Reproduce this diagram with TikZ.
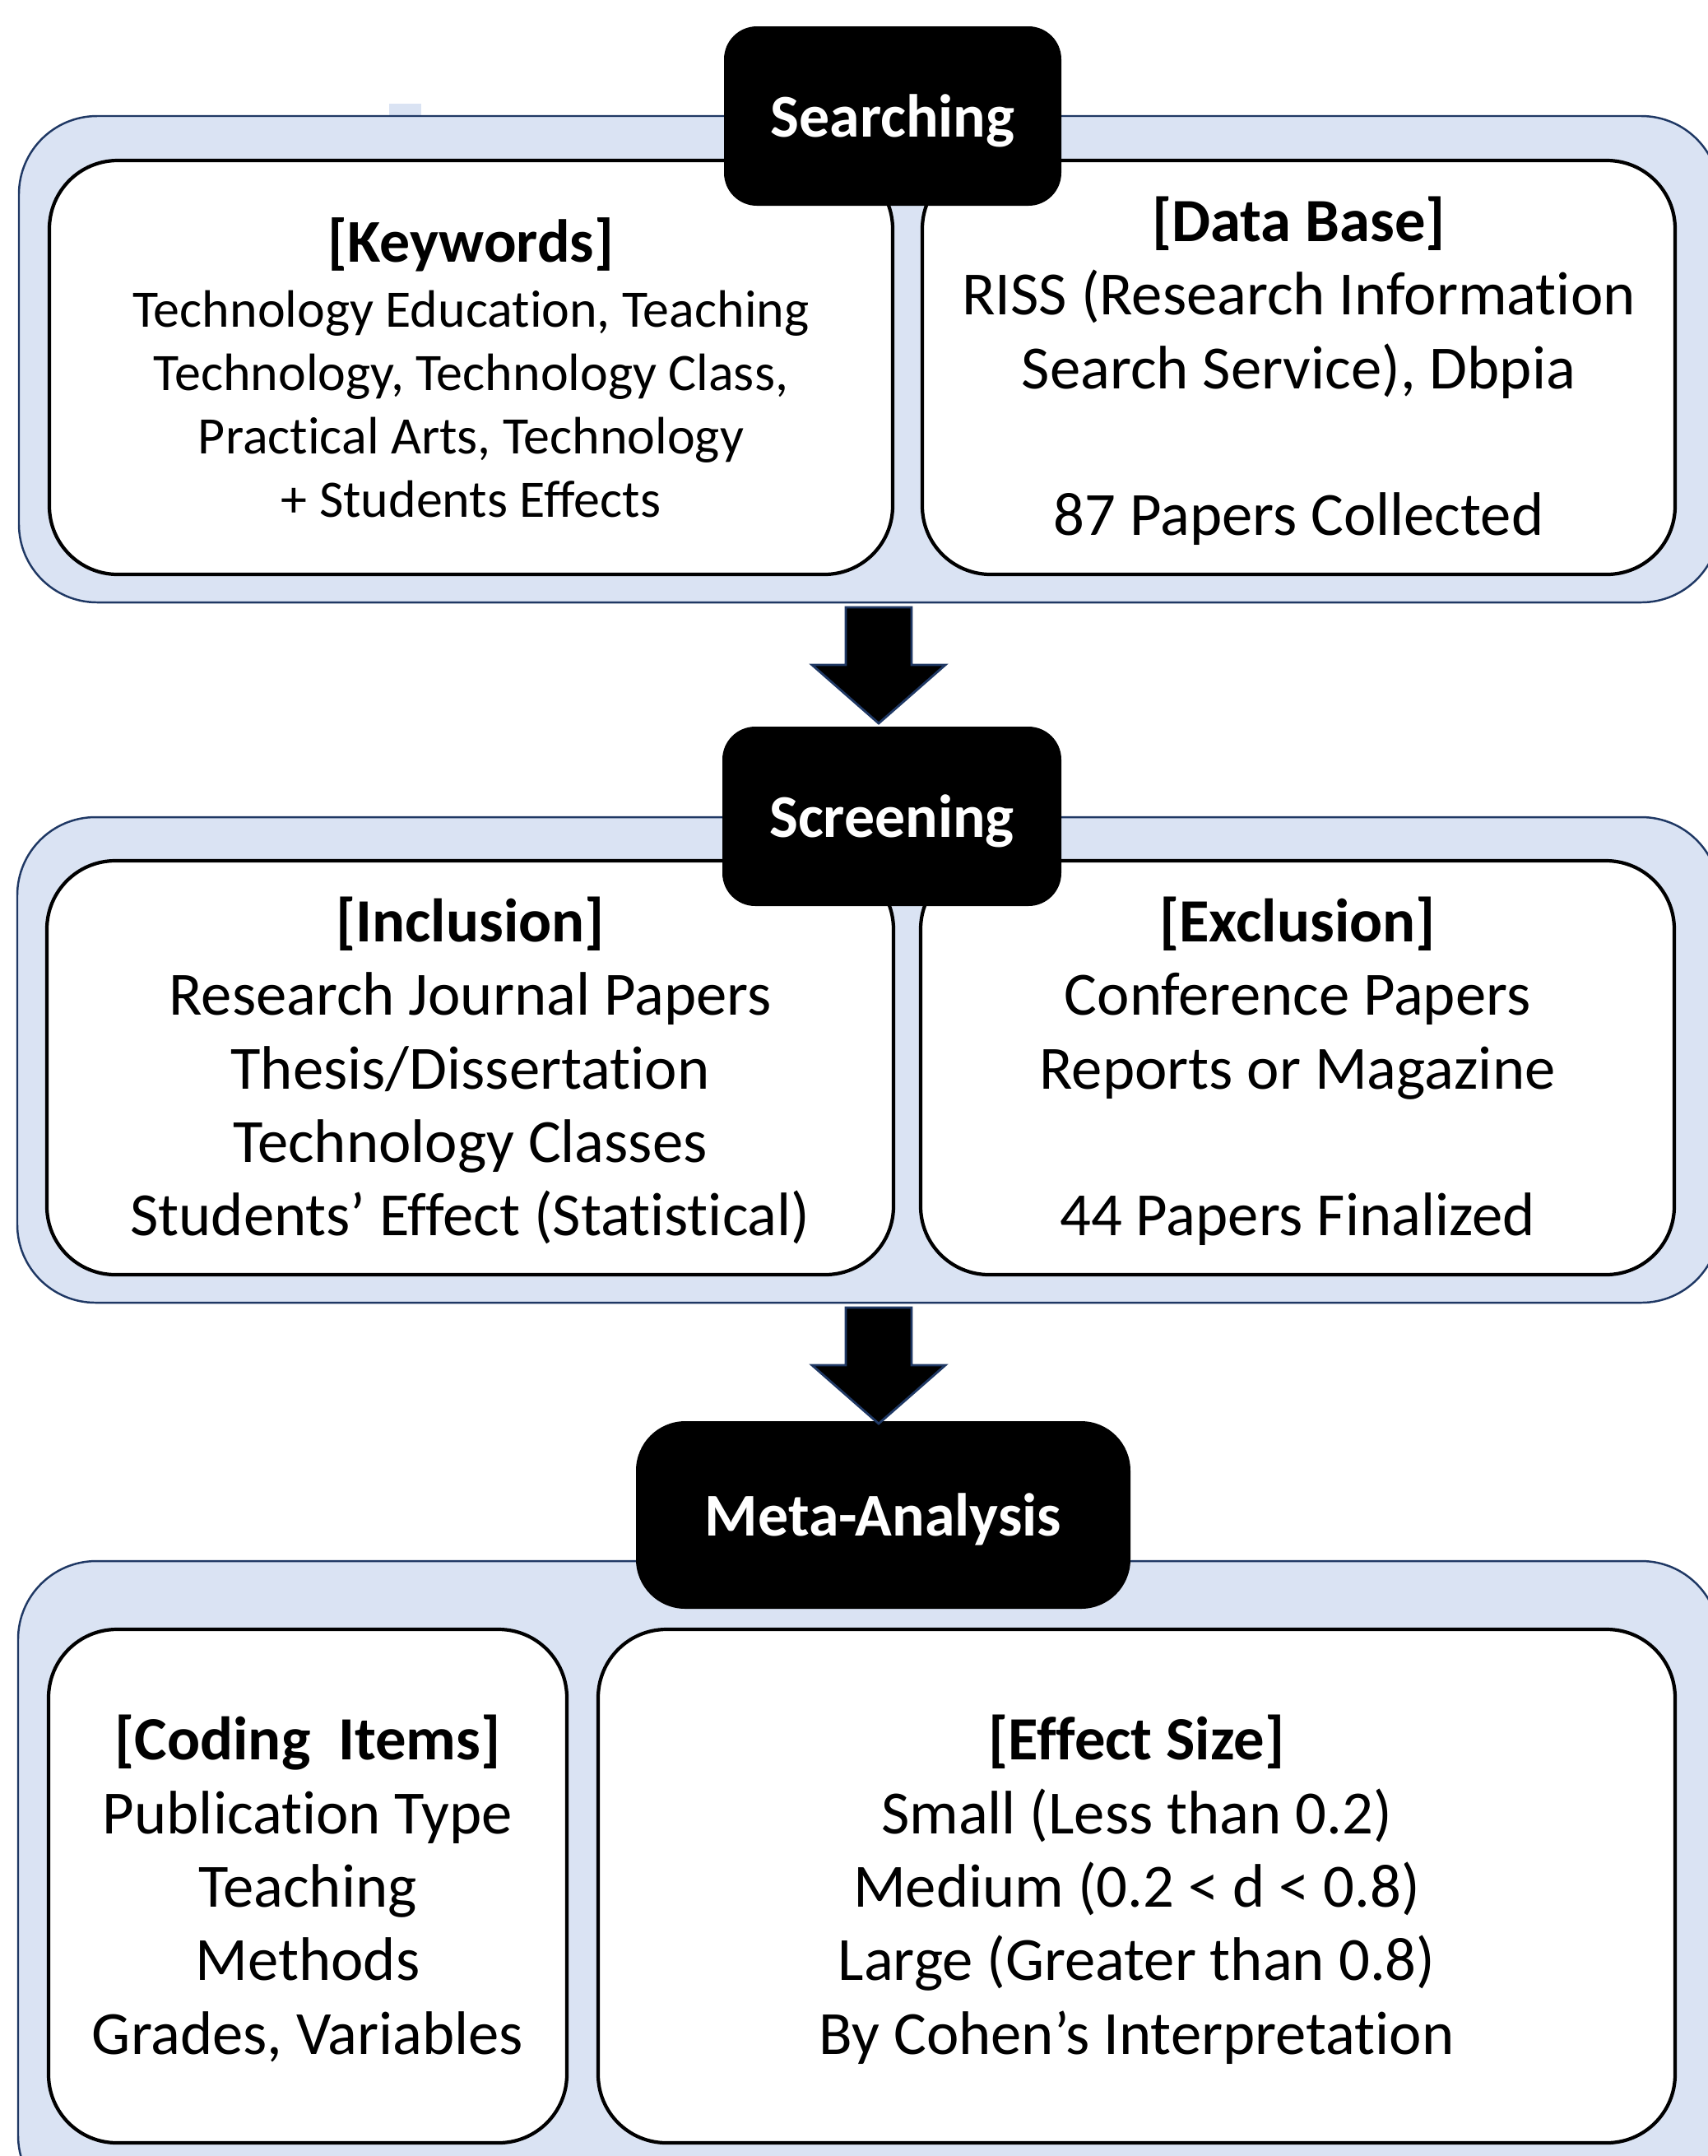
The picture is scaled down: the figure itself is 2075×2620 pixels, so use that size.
\documentclass[tikz,border=0pt]{standalone}
\usepackage{fontspec}
\setmainfont{Carlito}[Ligatures=NoCommon]
\usetikzlibrary{positioning,calc}
\pgfdeclarelayer{background}
\pgfsetlayers{background,main}
\definecolor{panelblue}{HTML}{DAE3F3}
\definecolor{navy}{HTML}{1F3864}

\begin{document}
\begin{tikzpicture}[x=0.1mm,y=-0.1mm,
		panel/.style={draw=navy, fill=panelblue, line width=0.7pt, rounded corners=9.5mm},
		itembox/.style={draw=black, fill=white, line width=1.2pt, rounded corners=8.3mm,
			align=center, inner sep=0pt, text depth=1pt, font=\fontsize{21.25}{25.4}\selectfont},
		stagebox/.style={fill=black, text=white, rounded corners=4mm, inner sep=0pt, text depth=0pt,
			font=\fontsize{21}{25.4}\selectfont\bfseries},
		blockarrow/.style={draw=navy, fill=black, line width=0.8pt}]
	\useasboundingbox (0,0) rectangle (2075,2620);

	% searching
	\node[itembox, minimum width=102.5mm, minimum height=50.3mm, text depth=0pt,
		font=\fontsize{18.2}{21.9}\selectfont] (keywords) at (572.5,446.5)
		{\textbf{\fontsize{21}{25.4}\selectfont [Keywords]}\\[0.6pt]
		 Technology Education, Teaching\\ Technology, Technology Class,\\
		 Practical Arts, Technology\\ + Students Effects};
	\node[itembox, minimum width=91.5mm, minimum height=50.3mm] (database) at (1578.5,446.5)
		{\textbf{[Data Base]}\\ RISS (Research Information\\ Search Service), Dbpia\\ \mbox{}\\ 87 Papers Collected};

	% screening
	\node[itembox, minimum width=102.9mm, minimum height=50.3mm] (inclusion) at (571.5,1297.5)
		{\textbf{[Inclusion]}\\ Research Journal Papers\\ Thesis/Dissertation\\ Technology Classes\\ Students’ Effect (Statistical)};
	\node[itembox, minimum width=91.6mm, minimum height=50.3mm] (exclusion) at (1577,1297.5)
		{\textbf{[Exclusion]}\\ Conference Papers\\ Reports or Magazine\\ \mbox{}\\ 44 Papers Finalized};

	% meta-analysis
	\node[itembox, minimum width=63mm, minimum height=62.4mm] (coding) at (374,2292)
		{\textbf{[Coding\ \ Items]}\\ Publication Type\\ Teaching\\ Methods\\ Grades, Variables};
	\node[itembox, minimum width=130.9mm, minimum height=62.4mm] (effect) at (1381.5,2292)
		{\textbf{[Effect Size]}\\ Small (Less than 0.2)\\ Medium (0.2 < d < 0.8)\\ Large (Greater than 0.8)\\ By Cohen’s Interpretation};

	% three stages
	\node[stagebox, minimum width=41mm, minimum height=21.8mm] (search) at (1085,141) {Searching};
	\node[stagebox, minimum width=41.2mm, minimum height=21.8mm] (screen) at (1084,992) {Screening};
	\node[stagebox, minimum width=60.1mm, minimum height=22.8mm, rounded corners=6mm] (meta) at (1073.5,1841) {Meta-Analysis};

	% arrows between stages
	\foreach \t in {738,1589}
		\draw[blockarrow] (1028,\t) -- ++(80,0) -- ++(0,70) -- ++(41,0) -- ++(-81,71) -- ++(-81,-71) -- ++(41,0) -- cycle;

	\begin{pgfonlayer}{background}
		\fill[panelblue] (473,126) rectangle (512,141);
		\draw[panel] (23,141) rectangle (2090,732);
		\draw[panel] (21,993) rectangle (2090,1583);
		\draw[panel] (22,1897) rectangle (2090,2690);
	\end{pgfonlayer}
\end{tikzpicture}
\end{document}
